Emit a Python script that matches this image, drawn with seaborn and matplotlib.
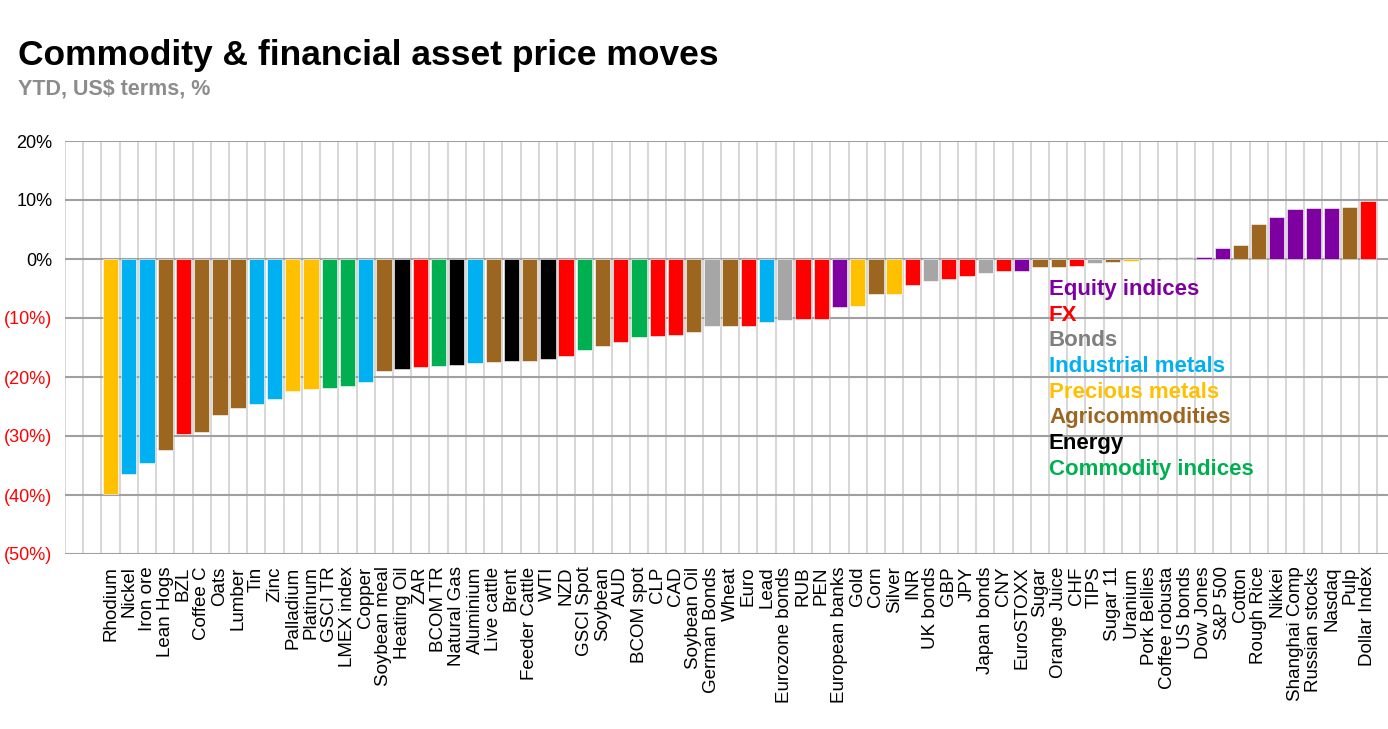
import matplotlib
matplotlib.use("Agg")
import matplotlib.pyplot as plt
import seaborn as sns

# categories, left to right
names = [
    "Rhodium", "Nickel", "Iron ore", "Lean Hogs", "BZL", "Coffee C", "Oats", "Lumber", "Tin", "Zinc",
    "Palladium", "Platinum", "GSCI TR", "LMEX index", "Copper", "Soybean meal", "Heating Oil", "ZAR",
    "BCOM TR", "Natural Gas", "Aluminium", "Live cattle", "Brent", "Feeder Cattle", "WTI", "NZD",
    "GSCI Spot", "Soybean", "AUD", "BCOM spot", "CLP", "CAD", "Soybean Oil", "German Bonds", "Wheat",
    "Euro", "Lead", "Eurozone bonds", "RUB", "PEN", "European banks", "Gold", "Corn", "Silver", "INR",
    "UK bonds", "GBP", "JPY", "Japan bonds", "CNY", "EuroSTOXX", "Sugar", "Orange Juice", "CHF", "TIPS",
    "Sugar 11", "Uranium", "Pork Bellies", "Coffee robusta", "US bonds", "Dow Jones", "S&P 500", "Cotton",
    "Rough Rice", "Nikkei", "Shanghai Comp", "Russian stocks", "Nasdaq", "Pulp", "Dollar Index",
]

# YTD % change
moves = [
    -39.9, -36.5, -34.6, -32.4, -29.7, -29.3, -26.4, -25.2, -24.5, -23.8,
    -22.3, -22.1, -21.8, -21.6, -20.9, -18.9, -18.7, -18.3,
    -18.2, -18.0, -17.7, -17.5, -17.3, -17.3, -16.9, -16.4,
    -15.4, -14.7, -14.0, -13.3, -13.0, -12.8, -12.3, -11.3, -11.3,
    -11.4, -10.6, -10.3, -10.1, -10.1, -8.2, -7.9, -6.0, -6.0, -4.4,
    -3.8, -3.4, -2.9, -2.4, -2.1, -2.1, -1.4, -1.3, -1.2, -0.6,
    -0.5, -0.3, 0.0, 0.0, 0.3, 0.4, 1.9, 2.3,
    5.9, 7.1, 8.4, 8.6, 8.6, 8.8, 9.8,
]

# asset class of each category
groups = [
    "Precious", "Industrial", "Industrial", "Agri", "FX", "Agri", "Agri", "Agri", "Industrial", "Industrial",
    "Precious", "Precious", "CommIdx", "CommIdx", "Industrial", "Agri", "Energy", "FX",
    "CommIdx", "Energy", "Industrial", "Agri", "Energy", "Agri", "Energy", "FX",
    "CommIdx", "Agri", "FX", "CommIdx", "FX", "FX", "Agri", "Bonds", "Agri",
    "FX", "Industrial", "Bonds", "FX", "FX", "Equity", "Precious", "Agri", "Precious", "FX",
    "Bonds", "FX", "FX", "Bonds", "FX", "Equity", "Agri", "Agri", "FX", "Bonds",
    "Agri", "Precious", "Agri", "Agri", "Bonds", "Equity", "Equity", "Agri",
    "Agri", "Equity", "Equity", "Equity", "Equity", "Agri", "FX",
]

group_colors = {
    "Equity": "#7F00A0", "FX": "#FF0000", "Bonds": "#A6A6A6", "Industrial": "#00B0F0",
    "Precious": "#FFC000", "Agri": "#9C6520", "Energy": "#000000", "CommIdx": "#00B050",
}
legend_labels = [
    ("Equity indices", "#7F00A0"), ("FX", "#FF0000"), ("Bonds", "#7F7F7F"),
    ("Industrial metals", "#00B0F0"), ("Precious metals", "#FFC000"),
    ("Agricommodities", "#9C6520"), ("Energy", "#000000"), ("Commodity indices", "#00B050"),
]

y_ticks = [-50, -40, -30, -20, -10, 0, 10, 20]
y_tick_labels = ["(50%)", "(40%)", "(30%)", "(20%)", "(10%)", "0%", "10%", "20%"]

sns.set_style("white")
plt.rcParams["font.family"] = ["Liberation Sans", "DejaVu Sans"]

fig = plt.figure(figsize=(13.88, 7.29), dpi=100)
ax = fig.add_axes([65 / 1388, 1 - 554 / 729, 1 - 65 / 1388, (554 - 141) / 729])

bar_colors = [group_colors[g] for g in groups]
sns.barplot(x=names, y=moves, hue=names, palette=bar_colors, legend=False, saturation=1,
            width=0.84, edgecolor="white", linewidth=0.4, ax=ax)

ax.set_xlim(-2.5, 70.1)
ax.set_ylim(-50, 20)

# grid: light verticals between categories, darker horizontals
for k in range(-2, 71):
    ax.axvline(k - 0.5, color="#D4D4D4", lw=1.3, zorder=0)
for t in y_ticks:
    ax.axhline(t, color="#A0A0A0", lw=1.5, zorder=0.5)
for s in ax.spines.values():
    s.set_visible(False)

ax.set_xticks(range(len(names)))
ax.set_xticklabels(names, rotation=90, fontsize=13.5, va="top", ha="center", color="black")
ax.set_yticks(y_ticks)
ax.set_yticklabels(y_tick_labels, fontsize=13)
for lbl, t in zip(ax.get_yticklabels(), y_ticks):
    lbl.set_color("#FF0000" if t < 0 else "#000000")
ax.tick_params(axis="both", length=0)
ax.tick_params(axis="y", pad=9)
ax.tick_params(axis="x", pad=9)
ax.set_xlabel("")
ax.set_ylabel("")

fig.text(18 / 1388, 1 - 65 / 729, "Commodity & financial asset price moves",
         fontsize=25.5, fontweight="bold", color="black", va="baseline", ha="left")
fig.text(18 / 1388, 1 - 95 / 729, "YTD, US$ terms, %",
         fontsize=15.5, fontweight="bold", color="#8C8C8C", va="baseline", ha="left")

for i, (txt, col) in enumerate(legend_labels):
    fig.text(1049 / 1388, 1 - (295 + i * 25.7) / 729, txt, color=col,
             fontsize=16, fontweight="bold", va="baseline", ha="left")

fig.savefig("out.png", dpi=100)
